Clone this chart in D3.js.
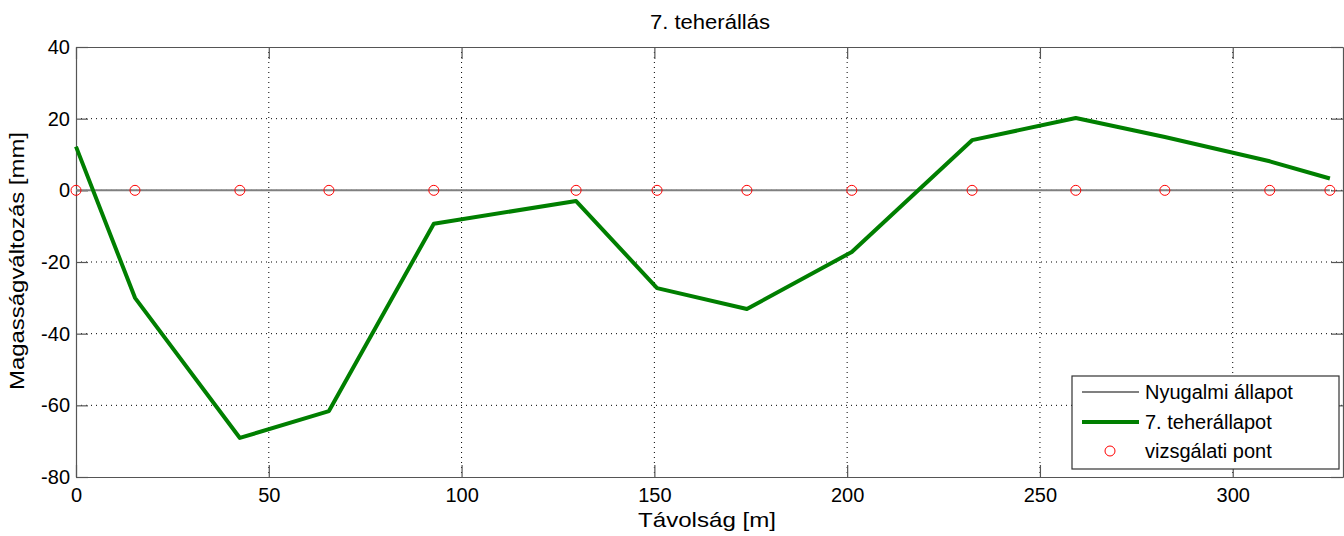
<!DOCTYPE html>
<html>
<head>
<meta charset="utf-8">
<script src="https://cdn.jsdelivr.net/npm/d3@7"></script>
<style>
  body { margin: 0; background: #fff; }
  svg { display: block; font-family: "Liberation Sans", Arial, sans-serif; }
</style>
</head>
<body>
<div id="chart"></div>
<script>
const distances = [0, 15.3, 42.5, 65.6, 92.8, 129.7, 150.7, 174.0, 201.2, 232.4, 259.3, 282.4, 309.6, 325.2]
const restState = distances.map(() => 0)
const loadState = [12.2, -30.0, -69.1, -61.6, -9.3, -3.0, -27.3, -33.1, -17.2, 14.0, 20.2, 14.9, 8.1, 3.3]
const xTicks = [0, 50, 100, 150, 200, 250, 300]
const yTicks = [-80, -60, -40, -20, 0, 20, 40]
const legendLabels = ['Nyugalmi állapot', '7. teherállapot', 'vizsgálati pont']

const width = 1344
const height = 536
const margin = { left: 76, top: 47, right: 1, bottom: 59 }
const fontSize = 20

const svg = d3.select('#chart')
  .append('svg')
  .attr('width', width)
  .attr('height', height)

const xScale = d3.scaleLinear()
  .domain([0, 328.6])
  .range([margin.left, width - margin.right])

const yScale = d3.scaleLinear()
  .domain([-80, 40])
  .range([height - margin.bottom, margin.top])

const plotLeft = margin.left
const plotRight = width - margin.right
const plotTop = margin.top
const plotBottom = height - margin.bottom

// grid
xTicks.slice(1).forEach(t => {
  svg.append('line')
    .attr('x1', xScale(t)).attr('x2', xScale(t))
    .attr('y1', plotTop).attr('y2', plotBottom)
    .attr('stroke', '#000').attr('stroke-width', 1)
    .attr('stroke-dasharray', '1,4')
})
yTicks.slice(1, -1).forEach(t => {
  svg.append('line')
    .attr('x1', plotLeft).attr('x2', plotRight)
    .attr('y1', yScale(t)).attr('y2', yScale(t))
    .attr('stroke', '#000').attr('stroke-width', 1)
    .attr('stroke-dasharray', '1,4')
})

// axes with inward ticks
const plain = d => String(d)
const xAxisBottom = d3.axisBottom(xScale).tickValues(xTicks).tickSizeInner(-12).tickSizeOuter(0).tickPadding(11).tickFormat(plain)
const xAxisTop = d3.axisTop(xScale).tickValues(xTicks).tickSizeInner(-12).tickSizeOuter(0).tickFormat('')
const yAxisLeft = d3.axisLeft(yScale).tickValues(yTicks).tickSizeInner(-12).tickSizeOuter(0).tickPadding(6).tickFormat(plain)
const yAxisRight = d3.axisRight(yScale).tickValues(yTicks).tickSizeInner(-12).tickSizeOuter(0).tickFormat('')

function styleAxis(g) {
  g.attr('font-size', fontSize).attr('font-family', '"Liberation Sans", Arial, sans-serif')
  g.selectAll('path, line').attr('stroke', '#555').attr('stroke-width', 1.2)
  g.selectAll('text').attr('fill', '#000')
}

svg.append('g').attr('transform', `translate(0,${plotBottom})`).call(xAxisBottom).call(styleAxis)
svg.append('g').attr('transform', `translate(0,${plotTop})`).call(xAxisTop).call(styleAxis)
svg.append('g').attr('transform', `translate(${plotLeft},0)`).call(yAxisLeft).call(styleAxis)
svg.append('g').attr('transform', `translate(${plotRight},0)`).call(yAxisRight).call(styleAxis)

// series
const line = d3.line().x((d, i) => xScale(distances[i])).y(d => yScale(d))

svg.append('path')
  .datum(restState)
  .attr('d', line)
  .attr('fill', 'none')
  .attr('stroke', '#808080')
  .attr('stroke-width', 2)

svg.append('path')
  .datum(loadState)
  .attr('d', line)
  .attr('fill', 'none')
  .attr('stroke', '#007f00')
  .attr('stroke-width', 4)
  .attr('stroke-linejoin', 'round')

svg.append('g')
  .selectAll('circle')
  .data(distances)
  .join('circle')
  .attr('cx', d => xScale(d))
  .attr('cy', yScale(0))
  .attr('r', 5)
  .attr('fill', 'none')
  .attr('stroke', '#ff0000')
  .attr('stroke-width', 1)

// title and axis labels (glyphs stretched a little to match the wider original font)
svg.append('text')
  .attr('x', 710)
  .attr('y', 29)
  .attr('text-anchor', 'middle')
  .attr('font-size', fontSize)
  .attr('textLength', 120)
  .attr('lengthAdjust', 'spacingAndGlyphs')
  .text('7. teherállás')

svg.append('text')
  .attr('x', 707)
  .attr('y', 527)
  .attr('text-anchor', 'middle')
  .attr('font-size', 21)
  .attr('textLength', 138)
  .attr('lengthAdjust', 'spacingAndGlyphs')
  .text('Távolság [m]')

svg.append('text')
  .attr('transform', 'translate(24,261) rotate(-90)')
  .attr('text-anchor', 'middle')
  .attr('font-size', 21)
  .attr('textLength', 258)
  .attr('lengthAdjust', 'spacingAndGlyphs')
  .text('Magasságváltozás [mm]')

// legend
const legend = svg.append('g').attr('transform', 'translate(1072,376)')
legend.append('rect')
  .attr('width', 267).attr('height', 93)
  .attr('fill', '#fff').attr('stroke', '#333').attr('stroke-width', 1.2)

const rowY = [16, 46, 75]
legend.append('line').attr('x1', 10).attr('x2', 67).attr('y1', rowY[0]).attr('y2', rowY[0])
  .attr('stroke', '#808080').attr('stroke-width', 2)
legend.append('line').attr('x1', 10).attr('x2', 67).attr('y1', rowY[1]).attr('y2', rowY[1])
  .attr('stroke', '#007f00').attr('stroke-width', 4)
legend.append('circle').attr('cx', 38).attr('cy', rowY[2]).attr('r', 5)
  .attr('fill', 'none').attr('stroke', '#ff0000')

legendLabels.forEach((label, i) => {
  legend.append('text')
    .attr('x', 73)
    .attr('y', rowY[i] + 7)
    .attr('font-size', fontSize)
    .text(label)
})
</script>
</body>
</html>
